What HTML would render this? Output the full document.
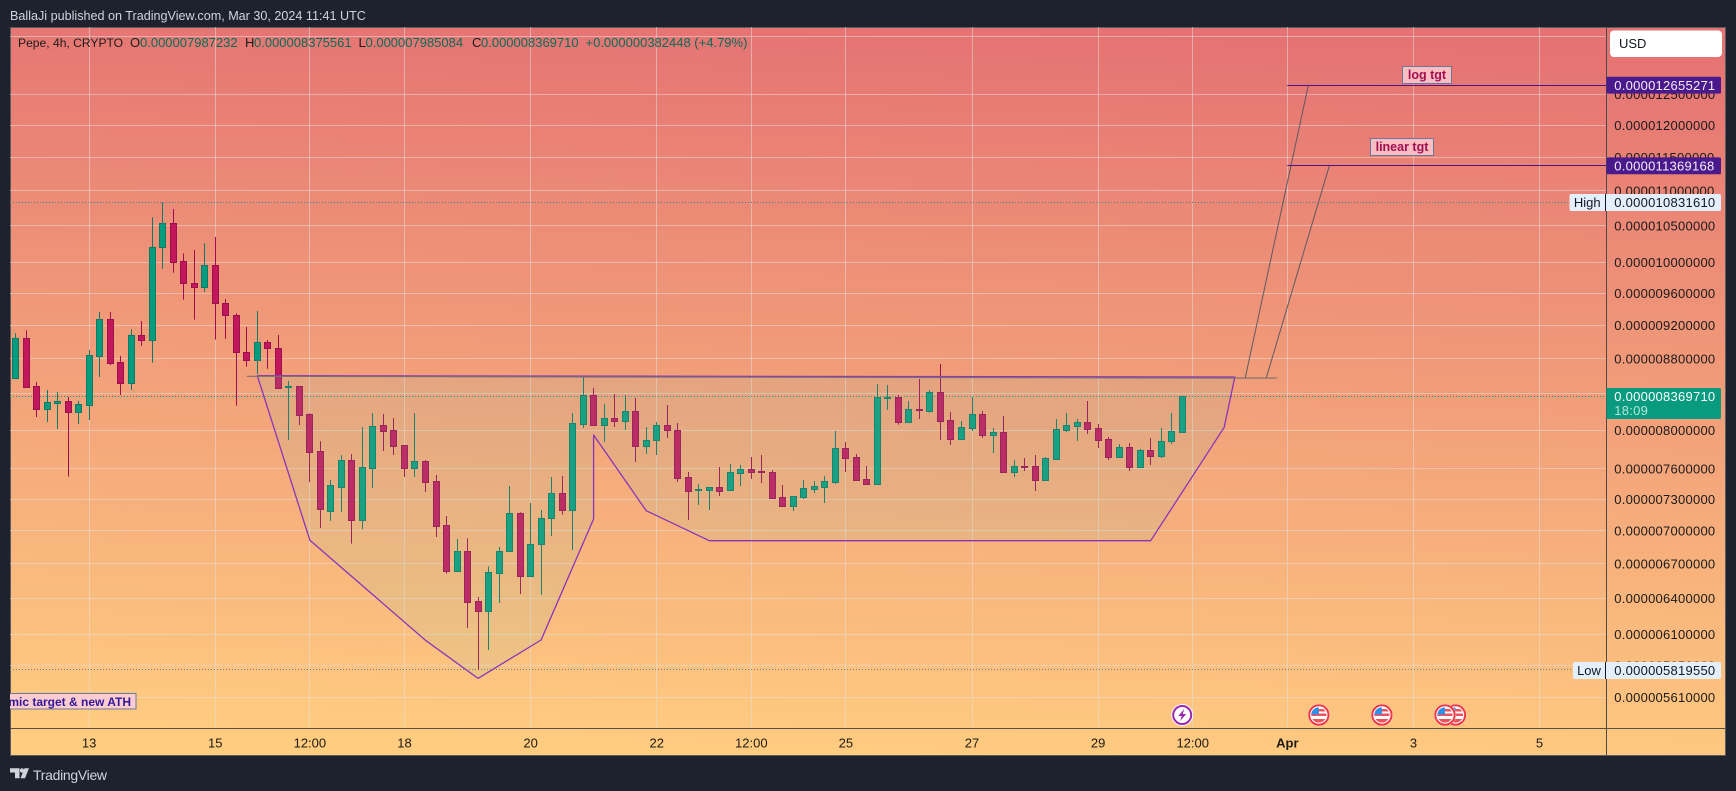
<!DOCTYPE html>
<html lang="en">
<head>
<meta charset="utf-8">
<title>Pepe 4h chart</title>
<style>
html,body{margin:0;padding:0;background:#1e222d;width:1736px;height:791px;overflow:hidden}
svg{position:absolute;left:0;top:0;font-family:"Liberation Sans",sans-serif}
text{white-space:pre}
</style>
</head>
<body>
<svg id="root" width="1736" height="791" viewBox="0 0 1736 791" xmlns="http://www.w3.org/2000/svg">
  <defs>
    <linearGradient id="bg" gradientUnits="userSpaceOnUse" x1="880" y1="27" x2="855" y2="755">
      <stop offset="0" stop-color="#e57373"/>
      <stop offset="1" stop-color="#ffcc80"/>
    </linearGradient>
    <clipPath id="pane-clip"><rect x="10" y="27" width="1597" height="702"/></clipPath>
    <clipPath id="flag-clip"><circle cx="0" cy="0" r="7.6"/></clipPath>
  </defs>

  <text x="10" y="20" font-size="12.6" fill="#d1d4dc">BallaJi published on TradingView.com, Mar 30, 2024 11:41 UTC</text>

  <rect x="10.5" y="27.5" width="1715" height="728" fill="url(#bg)" stroke="#5a5a60" stroke-width="1"/>

  <g id="grid"></g>
  <g id="reflines"></g>
  <g id="candles" clip-path="url(#pane-clip)"></g>
  <g id="drawings" clip-path="url(#pane-clip)"></g>

  <line x1="1606.5" y1="27" x2="1606.5" y2="755" stroke="#4c4a48"/>
  <line x1="10" y1="728.5" x2="1725" y2="728.5" stroke="#5a4f40"/>

  <g id="price-axis"></g>
  <g id="time-axis"></g>
  <g id="tags"></g>
  <g id="events"></g>

  <text y="47" font-size="13"><tspan x="18" font-size="12.1" fill="#1b1b1b">Pepe, 4h, CRYPTO</tspan><tspan x="130" fill="#1b1b1b">O</tspan><tspan x="140" fill="#0b6b58">0.000007987232</tspan><tspan x="245" fill="#1b1b1b">H</tspan><tspan x="254" fill="#0b6b58">0.000008375561</tspan><tspan x="358.500" fill="#1b1b1b">L</tspan><tspan x="365.500" fill="#0b6b58">0.000007985084</tspan><tspan x="472" fill="#1b1b1b">C</tspan><tspan x="481" fill="#0b6b58">0.000008369710</tspan><tspan x="585.500" fill="#0b6b58">+0.000000382448 (+4.79%)</tspan></text>

  <g>
    <rect x="1610" y="30.5" width="112" height="26.500" rx="4" fill="#ffffff"/>
    <text x="1619" y="48" font-size="13" fill="#131722">USD</text>
  </g>

  <g>
    <polygon points="10,768.300 19.500,768.300 19.500,778.300 15,778.300 15,772.500 10,772.500" fill="#d1d4dc"/>
    <circle cx="22" cy="770.500" r="2.200" fill="#d1d4dc"/>
    <polygon points="24.500,768.300 29,768.300 25,778.300 20.500,778.300" fill="#d1d4dc"/>
    <text x="33" y="780" font-size="14" letter-spacing="-0.3" fill="#d1d4dc">TradingView</text>
  </g>
</svg>

<script>
// ---------- chart data (prices in units of 1e-6 USD) ----------
const opens = [8.579,9.040,8.482,8.233,8.299,8.314,8.200,8.277,8.834,9.271,8.757,8.522,9.076,9.024,10.202,10.533,10.014,9.726,9.674,9.961,9.471,9.321,8.874,8.780,8.992,8.921,8.471,8.482,8.172,7.780,7.189,7.422,7.687,7.104,7.612,8.053,8.000,7.842,7.612,7.677,7.476,7.051,6.638,6.812,6.374,6.295,6.621,6.812,7.164,6.595,6.876,7.117,7.357,7.193,8.070,8.381,8.060,8.129,8.103,8.205,7.838,7.894,8.053,8.006,7.516,7.390,7.393,7.416,7.393,7.562,7.596,7.579,7.566,7.319,7.237,7.324,7.402,7.422,7.472,7.811,7.718,7.496,7.452,8.351,8.359,8.092,8.230,8.211,8.414,8.107,7.911,8.028,8.172,7.953,7.979,7.572,7.629,7.626,7.492,7.704,8.006,8.049,8.085,8.021,7.905,7.724,7.821,7.622,7.790,7.734,7.884,7.987232];
const highs = [9.101,9.137,8.530,8.440,8.418,8.362,8.318,8.901,9.362,9.362,8.830,9.149,9.250,10.617,10.8316,10.735,10.121,10.166,10.257,10.343,9.525,9.346,9.177,9.374,9.020,9.080,8.542,8.482,8.183,7.884,7.489,7.739,7.752,8.032,8.183,8.175,8.132,7.842,8.183,7.690,7.539,7.139,6.924,6.930,6.410,6.677,6.851,7.429,7.174,7.263,7.196,7.519,7.529,8.183,8.591,8.463,8.285,8.395,8.384,8.351,8.035,8.089,8.274,8.078,7.569,7.449,7.416,7.619,7.650,7.640,7.721,7.742,7.586,7.439,7.328,7.489,7.479,7.529,7.993,7.877,7.752,7.629,8.508,8.496,8.384,8.318,8.564,8.440,8.737,8.197,8.100,8.362,8.208,8.024,8.153,7.690,7.711,7.742,7.721,8.121,8.186,8.121,8.318,8.067,7.929,7.855,7.866,7.804,7.919,8.024,8.186,8.375561];
const lows = [8.568,8.477,8.143,8.089,8.014,7.522,8.067,8.110,8.587,8.725,8.384,8.440,8.948,8.752,9.916,9.864,9.516,9.267,9.618,9.024,9.035,8.266,8.706,8.622,8.682,8.466,7.898,8.057,7.469,7.026,7.092,7.177,6.881,7.016,7.410,7.783,7.742,7.519,7.519,7.370,6.942,6.612,6.638,6.151,5.8196,5.974,6.359,6.812,6.436,6.586,6.430,6.952,7.151,6.824,8.024,8.046,7.877,8.035,8.003,7.670,7.752,7.742,7.919,7.469,7.101,7.244,7.196,7.331,7.380,7.429,7.499,7.459,7.315,7.237,7.186,7.302,7.360,7.263,7.449,7.569,7.479,7.439,7.439,8.219,8.060,8.092,8.121,8.189,7.898,7.845,7.911,7.993,7.919,7.762,7.572,7.519,7.579,7.380,7.492,7.690,7.982,7.887,7.961,7.814,7.690,7.714,7.579,7.622,7.640,7.711,7.855,7.985084];
const closes = [9.040,8.477,8.233,8.303,8.318,8.200,8.281,8.838,9.271,8.752,8.522,9.076,9.024,10.202,10.533,10.009,9.726,9.674,9.961,9.471,9.321,8.874,8.780,8.992,8.921,8.466,8.482,8.168,7.776,7.203,7.436,7.687,7.104,7.616,8.043,7.996,7.838,7.612,7.677,7.472,7.047,6.638,6.812,6.370,6.295,6.624,6.812,7.164,6.595,6.876,7.117,7.357,7.193,8.075,8.381,8.060,8.129,8.103,8.205,7.838,7.894,8.053,8.006,7.512,7.383,7.400,7.416,7.383,7.566,7.596,7.572,7.569,7.315,7.237,7.328,7.406,7.429,7.476,7.811,7.714,7.492,7.452,8.359,8.362,8.092,8.226,8.219,8.414,8.103,7.911,8.032,8.172,7.953,7.979,7.572,7.626,7.619,7.492,7.708,8.011,8.053,8.085,8.017,7.901,7.724,7.821,7.622,7.790,7.734,7.884,7.989,8.36971];

const priceTicks = [13.5,12.5,12,11.5,11,10.5,10,9.6,9.2,8.8,8.4,8,7.6,7.3,7,6.7,6.4,6.1,5.85,5.61];
const timeTickBars = [7,19,28,37,49,61,70,79,91,103,112,121,133,145];
const timeTickLabels = ['13','15','12:00','18','20','22','12:00','25','27','29','12:00','Apr','3','5'];

const seriesHigh = 10.83161;
const seriesLow = 5.81955;
const lastPrice = 8.36971;
const countdown = '18:09';
const targetPrices = [12.655271,11.369168];
const targetNames = ['log tgt','linear tgt'];
const targetStartBars = [121,121];

// inverse head-and-shoulders outline: bar index and price for every vertex
const cupBars = [23,116,115,108,66,60,55,55,50,44,39,28];
const cupPrices = [8.602,8.587,8.032,6.908,6.908,7.189,7.950,7.110,6.054,5.753,6.052,6.912];

const necklineBars = [22,120];
const necklinePrices = [8.595,8.575];
const projectionFromBars = [117,119];
const projectionToBars = [123,125];
const projectionBase = 8.578;

const flagBars = [124,130,137,136];
const boltBars = [111];

// ---------- axis functions ----------
function x(bar){ return 15.6 + 10.51 * bar; }
function y(price){ return 430.3 + 752.5 * Math.log(8 / price); }
function fmt(price){ return (price / 1e6).toFixed(12); }

const NS = 'http://www.w3.org/2000/svg';
function mk(tag, attrs, parent){
  const el = document.createElementNS(NS, tag);
  for (const k in attrs) el.setAttribute(k, attrs[k]);
  parent.appendChild(el);
  return el;
}
const gridG = document.getElementById('grid');
const refG = document.getElementById('reflines');
const candleG = document.getElementById('candles');
const drawG = document.getElementById('drawings');
const priceG = document.getElementById('price-axis');
const timeG = document.getElementById('time-axis');
const tagG = document.getElementById('tags');
const eventG = document.getElementById('events');
const LEFT = 10, AXIS = 1606.5, BOTTOM = 728;
const GRID = 'rgba(226,226,226,0.5)';

// ---------- grid + axis labels ----------
priceTicks.forEach(function(p){
  const py = Math.floor(y(p)) + 0.5;
  const line = mk('line', {x1: LEFT, x2: AXIS, y1: py, y2: py, stroke: GRID}, gridG);
  
  
  const label = mk('text', {x: 1614.3, y: y(p) + 4.7, 'font-size': 13, 'letter-spacing': 0.25, fill: '#1a1a1a'}, priceG);
  label.textContent = fmt(p);
  
  
});
timeTickBars.forEach(function(bar, i){
  const px = Math.floor(x(bar)) + 0.5;
  const line = mk('line', {x1: px, x2: px, y1: 27, y2: BOTTOM, stroke: GRID}, gridG);
  
  
  const label = mk('text', {x: x(bar), y: 747.5, 'font-size': 13, 'text-anchor': 'middle', fill: '#1f1a14'}, timeG);
  if (timeTickLabels[i] === 'Apr') label.setAttribute('font-weight', 'bold');
  label.textContent = timeTickLabels[i];
  
  
});

// ---------- dotted reference lines ----------
function dotted(price, xEnd, color, name){
  const py = Math.floor(y(price)) + 0.5;
  const l = mk('line', {x1: LEFT, x2: xEnd, y1: py, y2: py, stroke: color, 'stroke-dasharray': '1 2'}, refG);
  
  
}
dotted(seriesHigh, 1569, '#3f7f8f', 'series-high-line');
dotted(seriesLow, 1573, '#5a7fa8', 'series-low-line');
dotted(lastPrice, AXIS, '#089981', 'last-price-line');

// ---------- candles ----------
opens.forEach(function(o, i){
  const c = closes[i], up = c >= o;
  const fill = up ? '#089c7e' : '#c2185b';
  const edge = up ? '#0b7a66' : '#9c1052';
  const cx = Math.floor(x(i));
  const g = mk('g', {}, candleG);
  
  
  const wick = mk('line', {x1: cx + 0.5, x2: cx + 0.5, y1: y(highs[i]), y2: y(lows[i]), stroke: edge, 'stroke-width': 1}, g);
  
  
  const top = Math.round(y(Math.max(o, c))) + 0.5;
  const bot = Math.round(y(Math.min(o, c))) + 0.5;
  const body = mk('rect', {x: cx - 2.5, y: top, width: 6, height: Math.max(bot - top, 1), fill: fill, stroke: edge, 'stroke-width': 1}, g);
  
  
});

// ---------- drawings ----------
const cupPoints = cupBars.map(function(b, i){ return x(b).toFixed(1) + ',' + y(cupPrices[i]).toFixed(1); }).join(' ');
const cup = mk('polygon', {points: cupPoints, fill: 'rgba(140,200,170,0.13)', stroke: '#8a35b8', 'stroke-width': 1.3, 'stroke-linejoin': 'round'}, drawG);



const neck = mk('line', {x1: x(necklineBars[0]), y1: y(necklinePrices[0]), x2: x(necklineBars[1]), y2: y(necklinePrices[1]), stroke: '#7d6f70', 'stroke-width': 1.2}, drawG);



targetPrices.forEach(function(t, i){
  const proj = mk('line', {x1: x(projectionFromBars[i]), y1: y(projectionBase), x2: x(projectionToBars[i]), y2: y(t), stroke: '#5e5a62', 'stroke-width': 1}, drawG);
  
  
  const ty = Math.floor(y(t)) + 0.5;
  const hl = mk('line', {x1: x(targetStartBars[i]), y1: ty, x2: AXIS, y2: ty, stroke: '#4a148c', 'stroke-width': 1}, drawG);
  
  
});

// ---------- annotation labels ----------
function note(boxX, boxY, boxW, boxH, textValue, name, bg, color, anchorRight, size){
  const g = mk('g', {'clip-path': 'url(#pane-clip)'}, drawG.parentNode);
  
  
  const r = mk('rect', {x: boxX + 0.5, y: boxY + 0.5, width: boxW, height: boxH, fill: bg, stroke: '#6c7a93', 'stroke-width': 1}, g);
  
  
  const attrs = {y: boxY + 12.8, 'font-size': size, 'font-weight': 'bold', fill: color};
  if (anchorRight) { attrs.x = boxX + boxW - 4.5; attrs['text-anchor'] = 'end'; }
  else { attrs.x = boxX + boxW / 2 + 0.5; attrs['text-anchor'] = 'middle'; }
  const t = mk('text', attrs, g);
  t.textContent = textValue;
  
  
}
note(1402, 66, 49, 17, targetNames[0], 'log-target-label', '#fdbcc2', '#a01050', false, 12.5);
note(1370, 138, 63, 17, targetNames[1], 'linear-target-label', '#fdbcc2', '#a01050', false, 12.5);
note(4, 693, 131.5, 15.5, 'mic target & new ATH', 'cosmic-target-label', '#fbccd0', '#32199a', true, 12);

// ---------- price tags ----------
function tag(price, color, textColor, h, dy, name){
  const py = y(price);
  const r = mk('rect', {x: 1606.5, y: py - dy, width: 114.5, height: h, rx: 1.5, fill: color}, tagG);
  
  
  const t = mk('text', {x: 1614.3, y: py + 4.7, 'font-size': 13, 'letter-spacing': 0.25, fill: textColor}, tagG);
  t.textContent = fmt(price);
  
  
}
targetPrices.forEach(function(t){
  tag(t, '#4a1a8c', '#f3eefc', 16.8, 8.4, 'target-price-tag');
});

function extreme(price, title, left, name){
  const py = y(price);
  const top = Math.round(py) - 8;
  const r = mk('rect', {x: left, y: top, width: 1721 - left, height: 17, rx: 2, fill: '#e3effd'}, tagG);
  
  
  const d = mk('line', {x1: 1605.5, x2: 1605.5, y1: top, y2: top + 17, stroke: '#131722'}, tagG);
  
  
  const a = mk('text', {x: (left + 1605) / 2, y: top + 13, 'font-size': 13, 'text-anchor': 'middle', fill: '#131722'}, tagG);
  a.textContent = title;
  
  
  const b = mk('text', {x: 1614.3, y: top + 13, 'font-size': 13, 'letter-spacing': 0.25, fill: '#131722'}, tagG);
  b.textContent = fmt(price);
  
  
}
extreme(seriesHigh, 'High', 1569.5, 'high-tag');
extreme(seriesLow, 'Low', 1573, 'low-tag');

tag(lastPrice, '#089b80', '#ffffff', 31, 8.3, 'last-price-tag');
const cd = mk('text', {x: 1614.3, y: y(lastPrice) + 18.8, 'font-size': 13, 'letter-spacing': 0.25, fill: '#b5e6da'}, tagG);
cd.textContent = countdown;



// ---------- event icons ----------
const EVENT_Y = 715;
boltBars.forEach(function(bar){
  const g = mk('g', {transform: 'translate(' + x(bar) + ',' + EVENT_Y + ')'}, eventG);
  
  
  g.innerHTML = '<circle r="11" fill="#fff"/><circle r="9" fill="#fff" stroke="#9c27b0" stroke-width="2"/><polygon points="2,-6 -4,1 -0.500,1 -2,6 4,-1 0.500,-1" fill="#9c27b0"/>';
});
flagBars.forEach(function(bar){
  const g = mk('g', {transform: 'translate(' + x(bar) + ',' + EVENT_Y + ')'}, eventG);
  
  
  g.innerHTML = '<circle r="11" fill="#fff"/><circle r="9.7" fill="#fff" stroke="#f23645" stroke-width="2"/>' +
    '<g clip-path="url(#flag-clip)"><rect x="-8" y="-8" width="16" height="16" fill="#fff"/>' +
    '<rect x="-8" y="-6" width="16" height="2.500" fill="#f0525c"/><rect x="-8" y="-1.500" width="16" height="2.500" fill="#f0525c"/>' +
    '<rect x="-8" y="4" width="16" height="4" fill="#f0525c"/><rect x="-8" y="-8" width="8" height="7.500" fill="#2f8fe6"/></g>';
});
</script>
</body>
</html>
